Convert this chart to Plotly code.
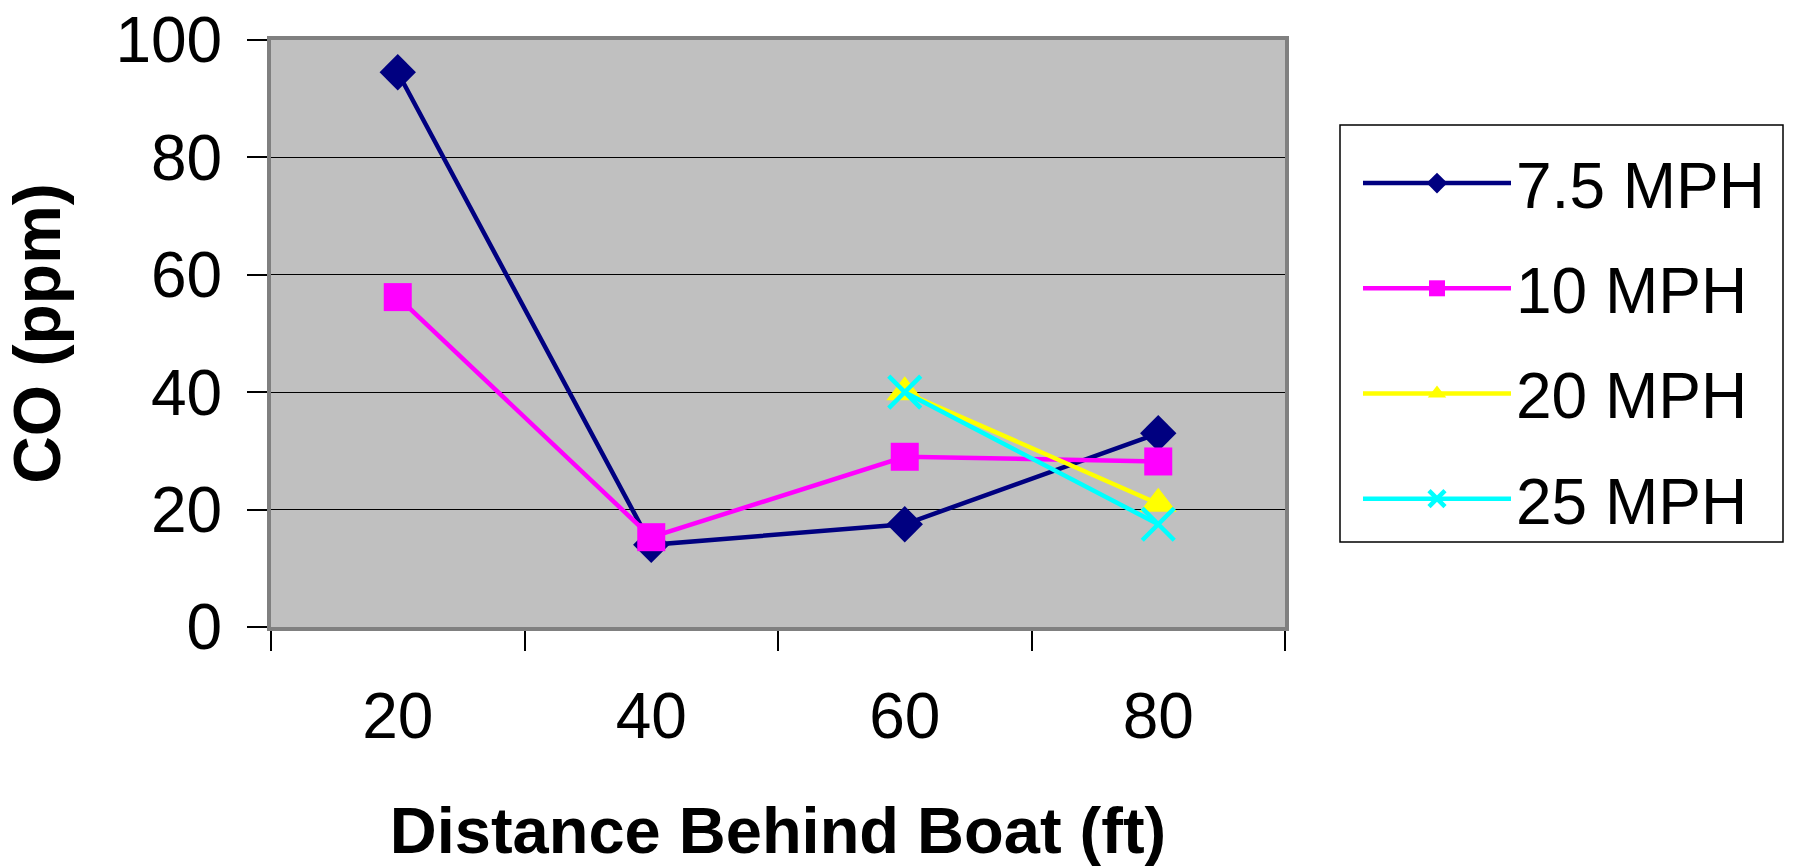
import plotly.graph_objects as go

categories = ["20", "40", "60", "80"]
series_names = ["7.5 MPH", "10 MPH", "20 MPH", "25 MPH"]
co_7_5 = [94.5, 14.0, 17.5, 33.0]
co_10 = [56.2, 15.3, 29.0, 28.2]
co_20 = [None, None, 40.0, 21.0]
co_25 = [None, None, 40.0, 17.5]
y_ticks = [0, 20, 40, 60, 80, 100]

colors = ["#000080", "#FF00FF", "#FFFF00", "#00FFFF"]
symbols = ["diamond", "square", "triangle-up", "x-thin"]
sizes = [28, 28, 32, 32]
values = [co_7_5, co_10, co_20, co_25]

FONT = "Arial, 'Liberation Sans', sans-serif"

W, H = 1796, 867
# target plot area in page pixels
L, R, T, B = 271, 1285, 40, 627

fig = go.Figure()
for i, (name, vals) in enumerate(zip(series_names, values)):
    marker = dict(symbol=symbols[i], size=sizes[i], color=colors[i])
    if symbols[i] == "x-thin":
        marker["line"] = dict(color=colors[i], width=4.5)
    else:
        marker["line"] = dict(width=0)
    fig.add_trace(go.Scatter(
        x=categories, y=vals, name=name, mode="lines+markers",
        line=dict(color=colors[i], width=4.5),
        marker=marker, connectgaps=False,
        legendgroup=f"g{i}",
    ))

def px_x(px):
    return (px - L) / (R - L)

def px_y(py):
    return 1 - (py - T) / (B - T)

fig.update_layout(
    width=W, height=H,
    margin=dict(l=L, r=W - R, t=T, b=H - B, autoexpand=False),
    paper_bgcolor="white",
    plot_bgcolor="#C0C0C0",
    font=dict(family=FONT, size=64, color="black"),
    showlegend=True,
    legend=dict(
        x=px_x(1358), y=px_y(135), xanchor="left", yanchor="top",
        bgcolor="rgba(0,0,0,0)", borderwidth=0,
        font=dict(family=FONT, size=64, color="black"),
        itemwidth=148, tracegroupgap=19,
        traceorder="grouped",
    ),
    shapes=[dict(
        type="rect", xref="paper", yref="paper",
        x0=px_x(1340), x1=px_x(1783), y0=px_y(542), y1=px_y(125),
        line=dict(color="black", width=1.5), fillcolor="white", layer="below",
    )],
)

fig.update_xaxes(
    type="category", categoryorder="array", categoryarray=categories,
    range=[-0.5, 3.5],
    tickson="boundaries", ticks="outside", ticklen=20, tickwidth=1.5, tickcolor="black",
    showgrid=False, zeroline=False,
    showline=True, linecolor="#808080", linewidth=4, mirror=True,
    tickfont=dict(family=FONT, size=64),
    ticklabelstandoff=30, ticklabeloverflow="allow",
    title=dict(text="<b>Distance Behind Boat (ft)</b>", font=dict(family=FONT, size=65), standoff=76),
    automargin=False,
)
fig.update_yaxes(
    range=[0, 100], tickvals=y_ticks, ticktext=[str(v) for v in y_ticks],
    ticks="outside", ticklen=20, tickwidth=1.5, tickcolor="black",
    showgrid=True, gridcolor="black", gridwidth=1.2, zeroline=False,
    showline=True, linecolor="#808080", linewidth=4, mirror=True,
    tickfont=dict(family=FONT, size=64),
    ticklabelstandoff=12, ticklabeloverflow="allow",
    title=dict(text="<b>CO (ppm)</b>", font=dict(family=FONT, size=66), standoff=54),
    automargin=False,
)

fig.write_html(
    "out.html",
    config={"displayModeBar": False},
    post_script="document.body.style.margin='0';document.body.style.overflow='hidden';",
)
